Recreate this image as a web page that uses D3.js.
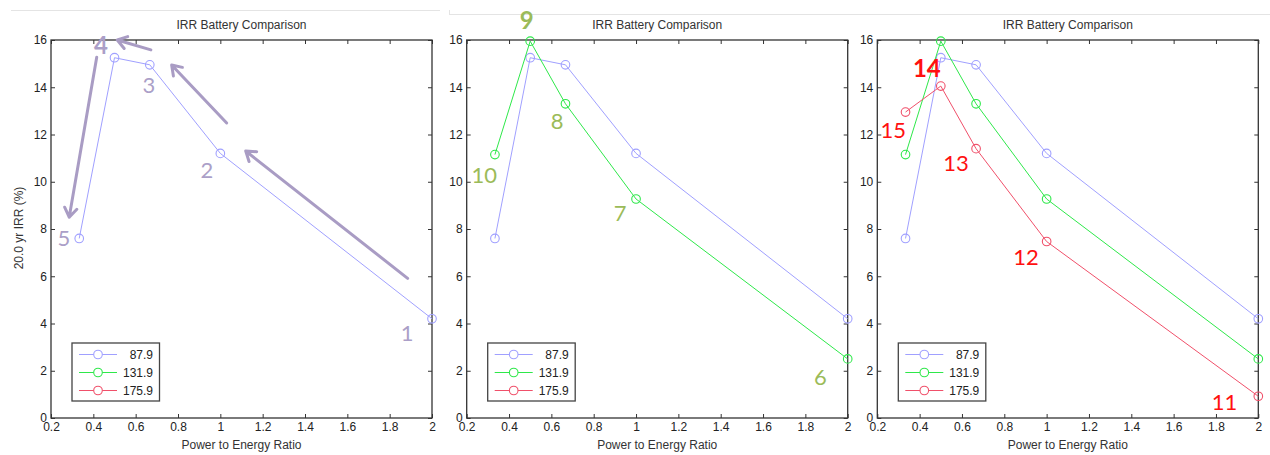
<!DOCTYPE html>
<html>
<head>
<meta charset="utf-8">
<script src="https://cdn.jsdelivr.net/npm/d3@7"></script>
<style>
  body { margin: 0; background: #fff; }
  .tick text { font-family: "Liberation Sans", Arial, sans-serif; font-size: 12px; fill: #222; }
  .tick line { stroke: #333; }
  .domain { stroke: none; }
</style>
</head>
<body>
<script>
// data
var ratio = [1/3, 0.5, 2/3, 1, 2];
var irr879 = [7.6, 15.25, 14.95, 11.2, 4.2];
var irr1319 = [11.15, 15.95, 13.3, 9.27, 2.5];
var irr1759 = [12.95, 14.05, 11.4, 7.47, 0.92];
var seriesNames = ["87.9", "131.9", "175.9"];
var seriesColors = ["#a0a0ff", "#2ee84a", "#f0506a"];
var xTicks = [0.2, 0.4, 0.6, 0.8, 1, 1.2, 1.4, 1.6, 1.8, 2];
var yTicks = [0, 2, 4, 6, 8, 10, 12, 14, 16];

// annotations, in data units: [x, y, text, bold]
var notes1 = [[1.882, 3.6, "1"], [0.937, 10.5, "2"], [0.663, 14.1, "3"], [0.436, 15.79, "4", true], [0.261, 7.62, "5"]];
var notes2 = [[1.871, 1.72, "6"], [0.925, 8.66, "7"], [0.627, 12.58, "8"], [0.484, 16.82, "9", true], [0.283, 10.29, "10"]];
var notes3 = [[1.84, 0.66, "11"], [0.903, 6.8, "12"], [0.572, 10.78, "13"], [0.434, 14.8, "14", true], [0.276, 12.19, "15"]];
// arrows (panel 1): [x1, y1, x2, y2], head at the second point
var arrows1 = [[1.885, 5.91, 1.12, 11.3], [1.03, 12.49, 0.77, 14.94], [0.672, 15.58, 0.513, 16.0], [0.416, 15.27, 0.286, 8.5]];

var W = 1270, H = 455;
var svg = d3.select("body").append("svg")
    .attr("width", W)
    .attr("height", H);

// faint screenshot edges
svg.append("line").attr("x1", 11).attr("x2", 440).attr("y1", 10.5).attr("y2", 10.5).attr("stroke", "#e4e4e4");
svg.append("line").attr("x1", 449).attr("x2", 1270).attr("y1", 14.5).attr("y2", 14.5).attr("stroke", "#e4e4e4");
svg.append("line").attr("x1", 449.5).attr("x2", 449.5).attr("y1", 10).attr("y2", 14.5).attr("stroke", "#e4e4e4");

var panels = [
  {left: 51, series: [irr879], notes: notes1, noteColor: "#ab9fc8", arrows: arrows1, ylabel: true},
  {left: 466.7, series: [irr879, irr1319], notes: notes2, noteColor: "#9bbb59", arrows: [], ylabel: false},
  {left: 877.3, series: [irr879, irr1319, irr1759], notes: notes3, noteColor: "#ff1010", arrows: [], ylabel: false}
];

var pw = 381, plotTop = 40, plotBottom = 418;

panels.forEach(function(p) { drawPanel(p); });

function drawPanel(p) {
    var g = svg.append("g").attr("transform", "translate(" + p.left + ",0)");
    var x = d3.scaleLinear().domain([0.2, 2]).range([0, pw]);
    var y = d3.scaleLinear().domain([0, 16]).range([plotBottom, plotTop]);

    // axes, ticks pointing inwards on all four sides
    g.append("g")
        .attr("transform", "translate(0," + plotBottom + ")")
        .call(d3.axisBottom(x).tickValues(xTicks).tickSizeInner(-4).tickSizeOuter(0).tickPadding(4).tickFormat(d3.format("")));
    g.append("g")
        .attr("transform", "translate(0," + plotTop + ")")
        .call(d3.axisTop(x).tickValues(xTicks).tickSizeInner(-4).tickSizeOuter(0).tickFormat(""));
    g.append("g")
        .call(d3.axisLeft(y).tickValues(yTicks).tickSizeInner(-4).tickSizeOuter(0).tickPadding(4));
    g.append("g")
        .attr("transform", "translate(" + pw + ",0)")
        .call(d3.axisRight(y).tickValues(yTicks).tickSizeInner(-4).tickSizeOuter(0).tickFormat(""));

    g.append("rect")
        .attr("x", 0).attr("y", plotTop)
        .attr("width", pw).attr("height", plotBottom - plotTop)
        .attr("fill", "none").attr("stroke", "#333").attr("stroke-width", 1.3);

    // title
    g.append("text")
        .attr("x", pw / 2).attr("y", 29)
        .attr("text-anchor", "middle")
        .style("font-family", "Liberation Sans, Arial, sans-serif")
        .style("font-size", "12px").style("fill", "#333")
        .text("IRR Battery Comparison");

    // x label
    g.append("text")
        .attr("x", pw / 2).attr("y", 449)
        .attr("text-anchor", "middle")
        .style("font-family", "Liberation Sans, Arial, sans-serif")
        .style("font-size", "12px").style("fill", "#333")
        .text("Power to Energy Ratio");

    if (p.ylabel) {
        g.append("text")
            .attr("transform", "rotate(-90)")
            .attr("x", -228).attr("y", -28)
            .attr("text-anchor", "middle")
            .style("font-family", "Liberation Sans, Arial, sans-serif")
            .style("font-size", "12px").style("fill", "#333")
            .text("20.0 yr IRR (%)");
    }

    // series
    var line = d3.line()
        .x(function(d, i) { return x(ratio[i]); })
        .y(function(d) { return y(d); });
    p.series.forEach(function(s, k) {
        g.append("path")
            .datum(s)
            .attr("d", line)
            .attr("fill", "none")
            .attr("stroke", seriesColors[k])
            .attr("stroke-width", 1);
        g.selectAll(null)
            .data(s)
            .enter().append("circle")
            .attr("cx", function(d, i) { return x(ratio[i]); })
            .attr("cy", function(d) { return y(d); })
            .attr("r", 4.3)
            .attr("fill", "none")
            .attr("stroke", seriesColors[k])
            .attr("stroke-width", 1.1);
    });

    // legend
    var lg = g.append("g").attr("transform", "translate(21,343)");
    lg.append("rect")
        .attr("width", 87.5).attr("height", 58)
        .attr("fill", "#fff").attr("stroke", "#444").attr("stroke-width", 1.3);
    seriesNames.forEach(function(name, k) {
        var yy = 11.5 + k * 18;
        lg.append("line")
            .attr("x1", 7).attr("x2", 45).attr("y1", yy).attr("y2", yy)
            .attr("stroke", seriesColors[k]).attr("stroke-width", 1.2);
        lg.append("circle")
            .attr("cx", 26).attr("cy", yy).attr("r", 4.3)
            .attr("fill", "#fff").attr("stroke", seriesColors[k]).attr("stroke-width", 1.1);
        lg.append("text")
            .attr("x", 81).attr("y", yy + 4.3)
            .attr("text-anchor", "end")
            .style("font-family", "Liberation Sans, Arial, sans-serif")
            .style("font-size", "12px").style("fill", "#222")
            .text(name);
    });

    // arrows
    p.arrows.forEach(function(a) {
        var x1 = x(a[0]), y1 = y(a[1]), x2 = x(a[2]), y2 = y(a[3]);
        var ang = Math.atan2(y2 - y1, x2 - x1);
        var hl = 11, spread = 0.6;
        var ha = [x2 - hl * Math.cos(ang - spread), y2 - hl * Math.sin(ang - spread)];
        var hb = [x2 - hl * Math.cos(ang + spread), y2 - hl * Math.sin(ang + spread)];
        g.append("path")
            .attr("d", "M" + x1 + "," + y1 + "L" + x2 + "," + y2 +
                       "M" + ha[0] + "," + ha[1] + "L" + x2 + "," + y2 + "L" + hb[0] + "," + hb[1])
            .attr("fill", "none")
            .attr("stroke", "#a99cc4")
            .attr("stroke-width", 3)
            .attr("stroke-linecap", "round")
            .attr("stroke-linejoin", "round");
    });

    // number labels
    g.selectAll(null)
        .data(p.notes)
        .enter().append("text")
        .attr("x", function(d) { return x(d[0]); })
        .attr("y", function(d) { return y(d[1]); })
        .attr("dy", "0.36em")
        .attr("text-anchor", "middle")
        .style("font-family", "Lato, Open Sans, sans-serif")
        .style("font-size", function(d) { return d[3] ? "24px" : "22px"; })
        .style("font-weight", function(d) { return d[3] ? "bold" : "normal"; })
        .style("fill", p.noteColor)
        .text(function(d) { return d[2]; });
}
</script>
</body>
</html>
